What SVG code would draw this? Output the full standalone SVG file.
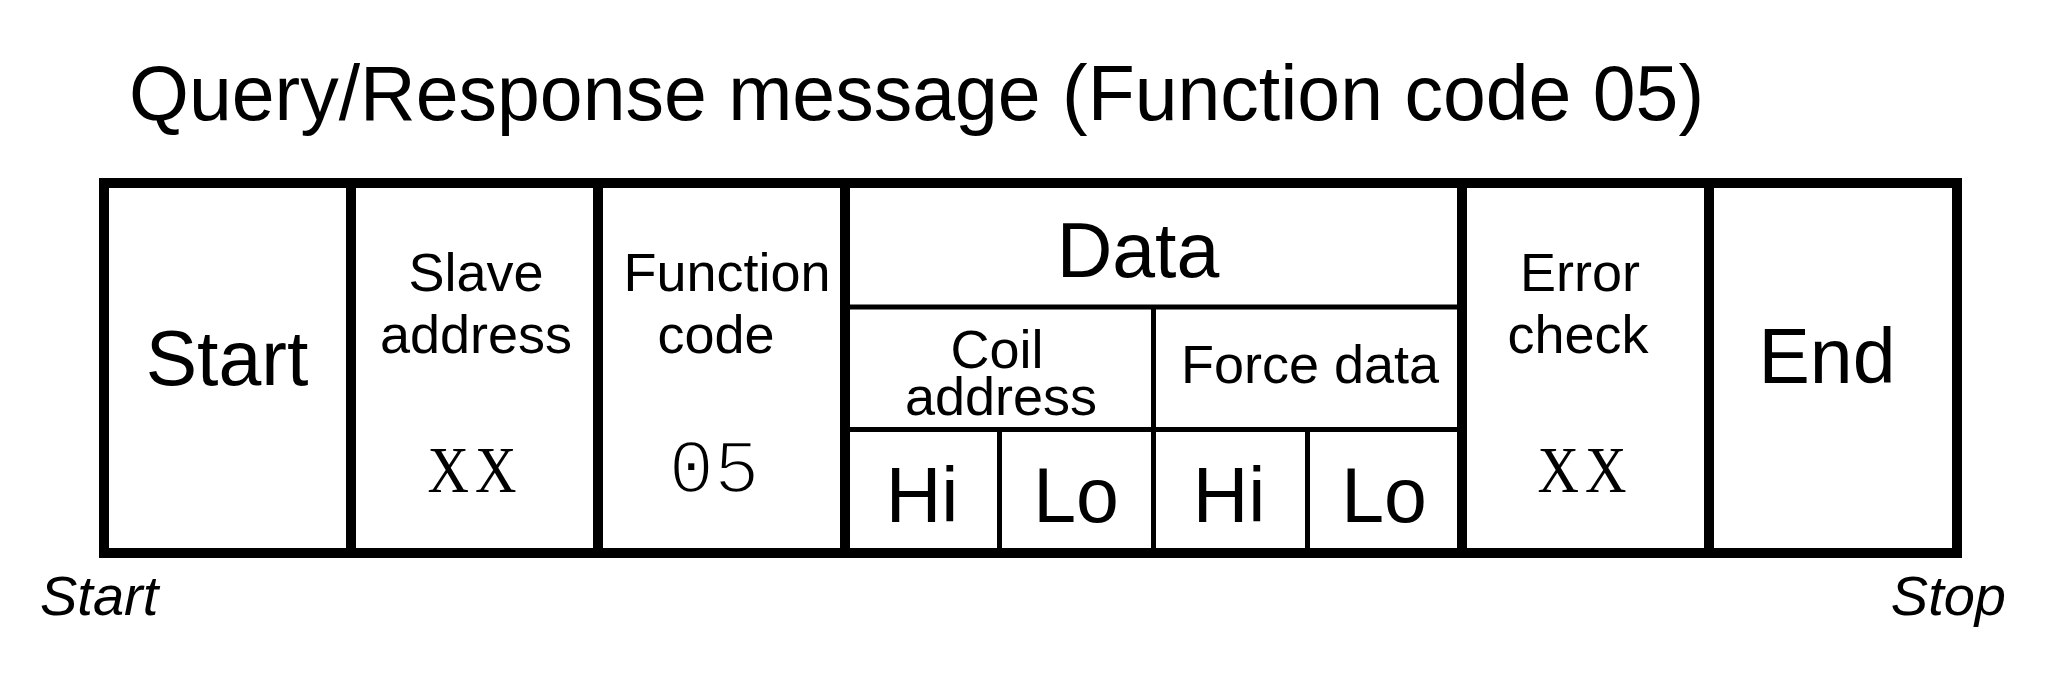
<svg xmlns="http://www.w3.org/2000/svg" width="2048" height="683" viewBox="0 0 2048 683">
<style>
  .bg{fill:#ffffff}
  .cell{fill:none;stroke:#000;stroke-width:10}
  .sub{fill:none;stroke:#000;stroke-width:5}
  text{fill:#000;font-family:"Liberation Sans",Arial,Helvetica,sans-serif;text-anchor:middle}
  .title{font-size:77px;text-anchor:start}
  .big{font-size:77px}
  .mid{font-size:54px}
  .mono{font-family:"Liberation Mono","Courier New",monospace;font-size:76px;stroke:#fff;stroke-width:2.5px}
  .xx{font-family:"Liberation Serif","Times New Roman",serif;font-size:66px;letter-spacing:7px}
  .ital{font-size:56px;font-style:italic}
</style>
<rect class="bg" x="0" y="0" width="2048" height="683"/>
<g id="title">
  <text class="title" x="129" y="120">Query/Response message (Function code 05)</text>
</g>
<g id="node-start">
  <rect class="cell" x="104" y="183" width="247" height="370"/>
  <text class="big" x="227" y="385">Start</text>
</g>
<g id="node-slave">
  <rect class="cell" x="351" y="183" width="247" height="370"/>
  <text class="mid" x="476" y="291">Slave</text>
  <text class="mid" x="476" y="353">address</text>
  <text class="xx" transform="translate(475,0) scale(0.87,1)" x="0" y="492">XX</text>
</g>
<g id="node-function">
  <rect class="cell" x="598" y="183" width="247" height="370"/>
  <text class="mid" x="727" y="291">Function</text>
  <text class="mid" x="716" y="353">code</text>
  <text class="mono" x="714" y="492">05</text>
</g>
<g id="node-data">
  <line class="sub" x1="845" y1="307" x2="1462" y2="307"/>
  <line class="sub" x1="845" y1="429.5" x2="1462" y2="429.5"/>
  <line class="sub" x1="1153.5" y1="307" x2="1153.5" y2="553"/>
  <line class="sub" x1="999.5" y1="429.5" x2="999.5" y2="553"/>
  <line class="sub" x1="1307.5" y1="429.5" x2="1307.5" y2="553"/>
  <rect class="cell" x="845" y="183" width="617" height="370"/>
  <text class="big" x="1138" y="277">Data</text>
  <text class="mid" x="997" y="368">Coil</text>
  <text class="mid" x="1001" y="415">address</text>
  <text class="mid" x="1310" y="383">Force data</text>
  <text class="big" x="922" y="522">Hi</text>
  <text class="big" x="1076" y="522">Lo</text>
  <text class="big" x="1229" y="522">Hi</text>
  <text class="big" x="1384" y="522">Lo</text>
</g>
<g id="node-error">
  <rect class="cell" x="1462" y="183" width="247" height="370"/>
  <text class="mid" x="1580" y="291">Error</text>
  <text class="mid" x="1578" y="353">check</text>
  <text class="xx" transform="translate(1585,0) scale(0.87,1)" x="0" y="492">XX</text>
</g>
<g id="node-end">
  <rect class="cell" x="1709" y="183" width="248" height="370"/>
  <text class="big" x="1827" y="383">End</text>
</g>
<g id="labels">
  <text class="ital" x="40" y="615" style="text-anchor:start">Start</text>
  <text class="ital" x="2006" y="615" style="text-anchor:end">Stop</text>
</g>
<g id="connectors"/>
</svg>
